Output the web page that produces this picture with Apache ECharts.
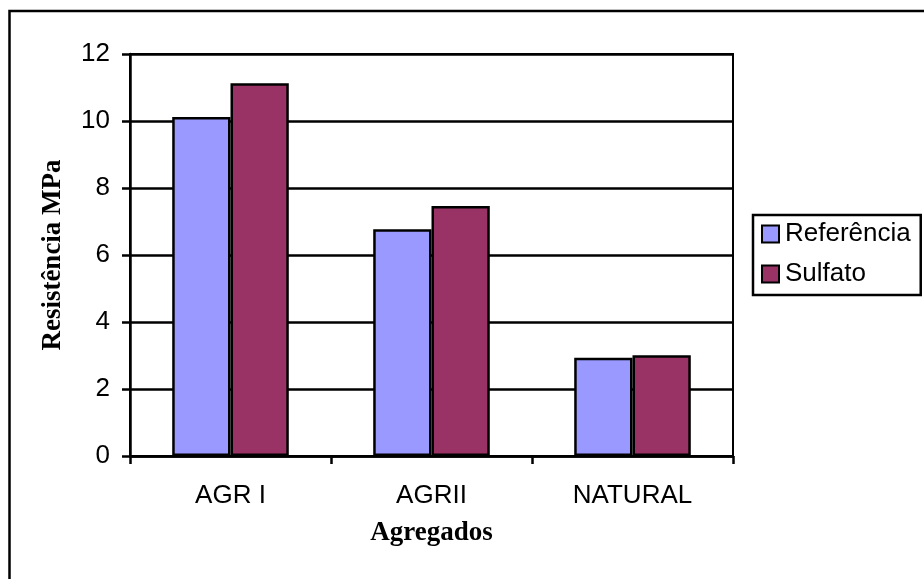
<!DOCTYPE html>
<html><head><meta charset="utf-8">
<script src="https://cdn.jsdelivr.net/npm/echarts@6/dist/echarts.min.js"></script>
<style>html,body{margin:0;padding:0;background:#fff}#c{width:924px;height:579px}</style>
</head><body><div id="c"></div>
<script>
const categories = ['AGR I', 'AGRII', 'NATURAL'];
const referencia = [10.12, 6.77, 2.93];
const sulfato = [11.13, 7.46, 3.01];
const yTicks = {min: 0, max: 12, interval: 2};

const chart = echarts.init(document.getElementById('c'));
const sans = 'Liberation Sans, Arial, sans-serif';
const serif = 'Liberation Serif, Times New Roman, serif';
chart.setOption({
  animation: false,
  backgroundColor: '#fff',
  graphic: [{type: 'rect', shape: {x: 9.5, y: 11, width: 1000, height: 1000}, style: {fill: 'none', stroke: '#000', lineWidth: 2.5}, z: 100}],
  grid: {left: 130, top: 54, right: 191, bottom: 123, show: true, borderColor: '#000', borderWidth: 2, backgroundColor: 'transparent'},
  legend: {
    orient: 'vertical', left: 753, top: 215,
    padding: [6, 10, 8, 8], itemGap: 14, itemWidth: 17, itemHeight: 17,
    borderColor: '#000', borderWidth: 2.5,
    icon: 'rect',
    textStyle: {fontFamily: sans, fontSize: 26, color: '#000', padding: [0,0,0,1]},
    data: ['Referência', 'Sulfato']
  },
  xAxis: {
    type: 'category', data: categories, boundaryGap: true,
    name: 'Agregados', nameLocation: 'middle', nameGap: 64,
    nameTextStyle: {fontFamily: serif, fontWeight: 'bold', fontSize: 27, color: '#000'},
    axisLine: {lineStyle: {color: '#000', width: 2.5}},
    axisTick: {show: true, length: 8, lineStyle: {color: '#000', width: 2.5}},
    axisLabel: {fontFamily: sans, fontSize: 26, color: '#000', margin: 27}
  },
  yAxis: {
    type: 'value', min: yTicks.min, max: yTicks.max, interval: yTicks.interval,
    name: 'Resistência MPa', nameLocation: 'middle', nameGap: 63,
    nameTextStyle: {fontFamily: serif, fontWeight: 'bold', fontSize: 27, color: '#000'},
    axisLine: {show: true, lineStyle: {color: '#000', width: 2.5}},
    axisTick: {show: true, length: 8, lineStyle: {color: '#000', width: 2.5}},
    axisLabel: {fontFamily: sans, fontSize: 26, color: '#000', margin: 20},
    splitLine: {show: true, lineStyle: {color: '#000', width: 2.5}}
  },
  series: [
    {name: 'Referência', type: 'bar', data: referencia, barGap: '0%', barCategoryGap: '42%',
     itemStyle: {color: '#9999FF', borderColor: '#000', borderWidth: 2.5}},
    {name: 'Sulfato', type: 'bar', data: sulfato, barGap: '0%', barCategoryGap: '42%',
     itemStyle: {color: '#993366', borderColor: '#000', borderWidth: 2.5}}
  ]
});
</script></body></html>
